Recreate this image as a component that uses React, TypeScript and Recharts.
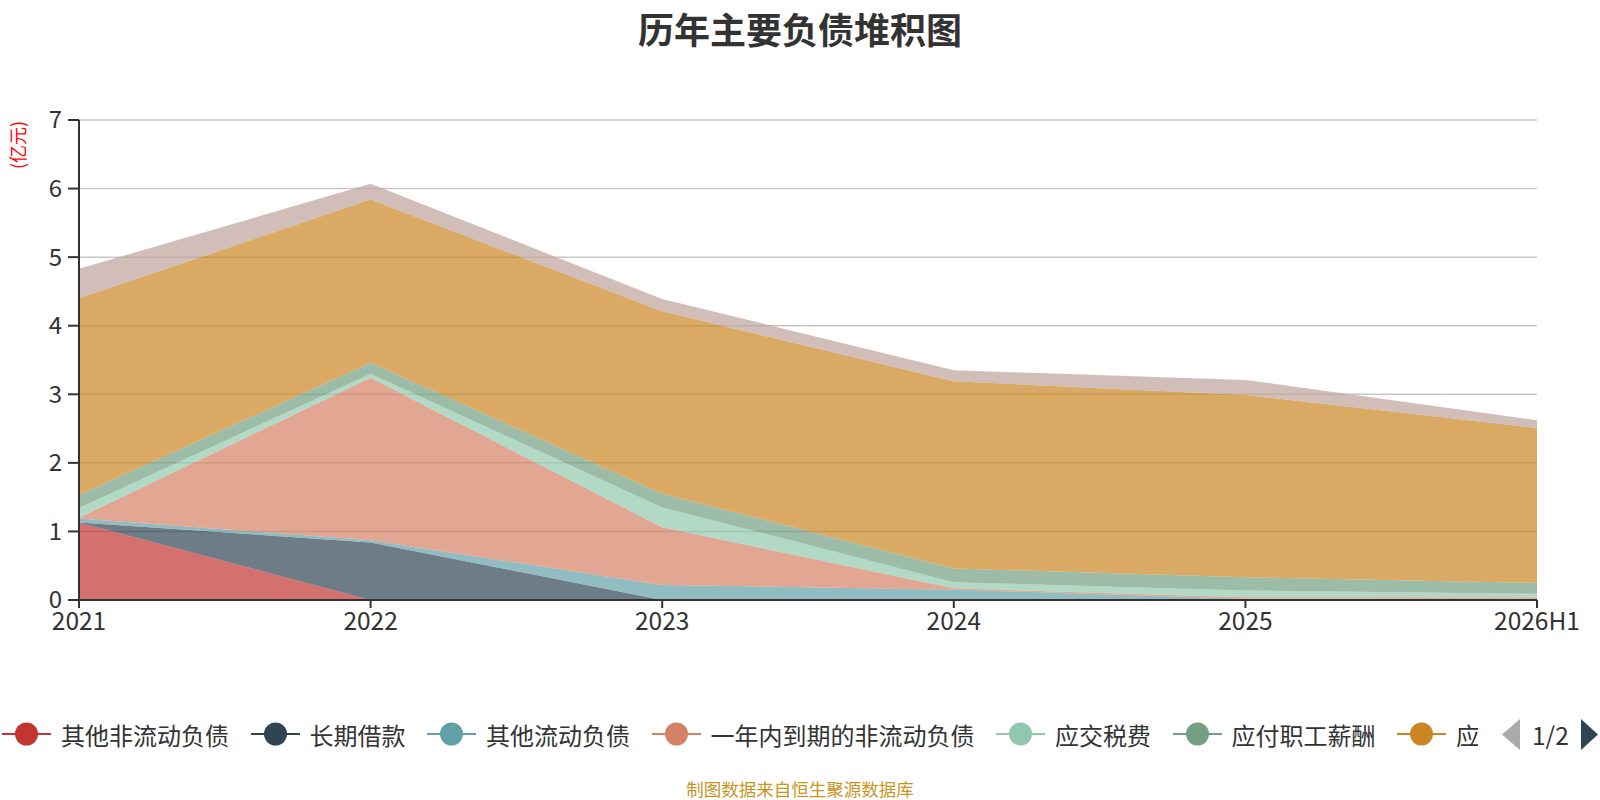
import { Area, AreaChart, CartesianGrid, XAxis, YAxis } from "recharts";

const years = ["2021", "2022", "2023", "2024", "2025", "2026H1"];

// 单位: 亿元
const otherNonCurrent = [1.13, 0, 0, 0, 0, 0];
const longTermLoan = [0, 0.84, 0, 0, 0, 0];
const otherCurrent = [0.06, 0.03, 0.22, 0.15, 0.02, 0.02];
const currentPortion = [0.01, 2.37, 0.84, 0.02, 0.02, 0.02];
const taxesPayable = [0.14, 0.06, 0.29, 0.09, 0.1, 0.05];
const payroll = [0.19, 0.16, 0.2, 0.2, 0.19, 0.16];
const accountsPayable = [2.87, 2.38, 2.66, 2.73, 2.66, 2.26];
const contractLiab = [0.43, 0.23, 0.18, 0.16, 0.22, 0.11];

const yTicks = [0, 1, 2, 3, 4, 5, 6, 7];

const series = [
  { key: "其他非流动负债", values: otherNonCurrent, color: "#c23531" },
  { key: "长期借款", values: longTermLoan, color: "#2f4554" },
  { key: "其他流动负债", values: otherCurrent, color: "#61a0a8" },
  { key: "一年内到期的非流动负债", values: currentPortion, color: "#d48265" },
  { key: "应交税费", values: taxesPayable, color: "#91c7ae" },
  { key: "应付职工薪酬", values: payroll, color: "#749f83" },
  { key: "应付账款", values: accountsPayable, color: "#ca8622" },
  { key: "合同负债", values: contractLiab, color: "#bda29a" },
];

const data = years.map((year, i) => {
  const row: Record<string, string | number> = { year };
  series.forEach((s) => {
    row[s.key] = s.values[i];
  });
  return row;
});

const FONT = '"Noto Sans CJK SC", "Noto Sans", sans-serif';

function LegendIcon({ color }: { color: string }) {
  return (
    <svg width={49} height={26} style={{ flex: "none" }}>
      <line x1={0} y1={13} x2={49} y2={13} stroke={color} strokeWidth={2} />
      <circle cx={24.5} cy={13} r={11.5} fill={color} />
    </svg>
  );
}

// y 轴刻度文字: 右对齐到刻度线左侧
function YTick(props: any) {
  const { y, payload } = props;
  return (
    <text x={62} y={y} dy="0.35em" textAnchor="end" fill="#333" fontSize={24}>
      {payload.value}
    </text>
  );
}

export default function App() {
  const legendItems = series.slice(0, 7);
  return (
    <div
      style={{
        position: "absolute",
        left: 0,
        top: 0,
        width: 1600,
        height: 800,
        background: "#fff",
        fontFamily: FONT,
        overflow: "hidden",
      }}
    >
      <div
        style={{
          position: "absolute",
          top: 2,
          left: 0,
          width: 1600,
          textAlign: "center",
          fontSize: 36,
          fontWeight: "bold",
          color: "#333",
        }}
      >
        历年主要负债堆积图
      </div>
      <div
        style={{
          position: "absolute",
          left: -8,
          top: 132,
          width: 50,
          textAlign: "center",
          fontSize: 18,
          color: "#ff0000",
          transform: "rotate(-90deg)",
        }}
      >
        (亿元)
      </div>
      <AreaChart
        width={1600}
        height={800}
        data={data}
        margin={{ top: 120, right: 63, bottom: 160, left: 19 }}
        style={{ fontFamily: FONT }}
      >
        <CartesianGrid vertical={false} stroke="#c8c8c8" strokeWidth={1.5} />
        <XAxis
          dataKey="year"
          height={40}
          tick={{ fill: "#333", fontSize: 24.5 }}
          tickSize={8}
          tickMargin={5}
          axisLine={{ stroke: "#333", strokeWidth: 2 }}
          tickLine={{ stroke: "#333", strokeWidth: 2 }}
          interval={0}
        />
        <YAxis
          width={60}
          domain={[0, 7]}
          ticks={yTicks}
          tick={<YTick />}
          tickSize={11}
          axisLine={{ stroke: "#333", strokeWidth: 2 }}
          tickLine={{ stroke: "#333", strokeWidth: 2 }}
        />
        {series.map((s) => (
          <Area
            key={s.key}
            type="linear"
            dataKey={s.key}
            stackId="debt"
            fill={s.color}
            fillOpacity={0.7}
            stroke="none"
            dot={false}
            activeDot={false}
            isAnimationActive={false}
          />
        ))}
      </AreaChart>
      <div
        style={{
          position: "absolute",
          left: 2,
          top: 717,
          width: 1476,
          height: 34,
          display: "flex",
          alignItems: "center",
          gap: 21.5,
          whiteSpace: "nowrap",
          overflow: "hidden",
        }}
      >
        {legendItems.map((s) => (
          <div key={s.key} style={{ display: "flex", alignItems: "center", gap: 10, flex: "none" }}>
            <LegendIcon color={s.color} />
            <span style={{ fontSize: 24, color: "#333" }}>{s.key}</span>
          </div>
        ))}
      </div>
      <div
        style={{
          position: "absolute",
          left: 1502,
          top: 717,
          display: "flex",
          alignItems: "center",
          gap: 12,
        }}
      >
        <svg width={18} height={31}>
          <polygon points="18,0 0,15.5 18,31" fill="#aaa" />
        </svg>
        <span style={{ fontSize: 24.5, color: "#333" }}>1/2</span>
        <svg width={17} height={31}>
          <polygon points="0,0 17,15.5 0,31" fill="#2f4554" />
        </svg>
      </div>
      <div
        style={{
          position: "absolute",
          top: 776,
          left: 0,
          width: 1600,
          textAlign: "center",
          fontSize: 17.5,
          color: "#c8951e",
        }}
      >
        制图数据来自恒生聚源数据库
      </div>
    </div>
  );
}
